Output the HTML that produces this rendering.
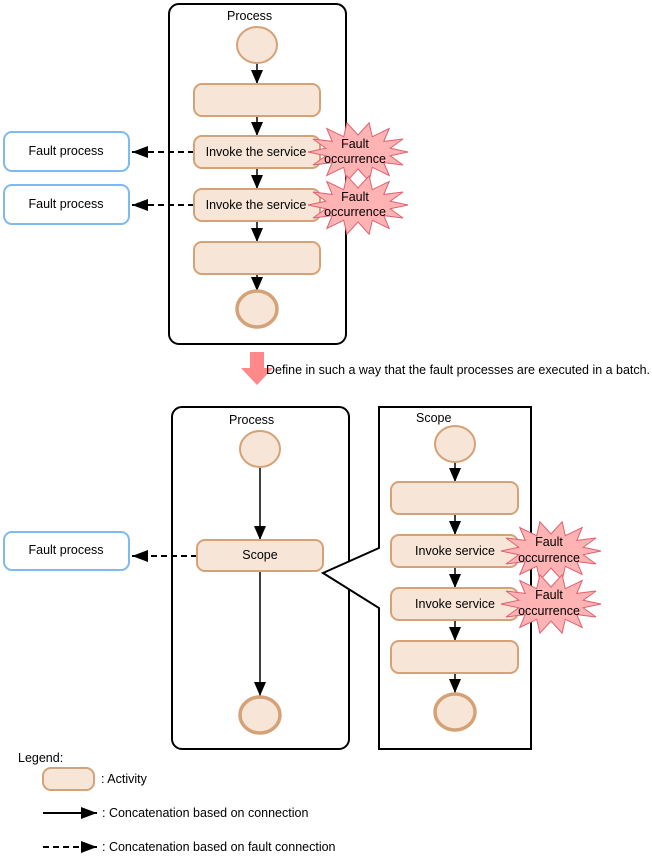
<!DOCTYPE html>
<html><head><meta charset="utf-8"><style>body{margin:0;background:#fff}svg{display:block}text{font-family:"Liberation Sans",sans-serif;font-size:12.5px;fill:#000}</style></head><body>
<svg width="652" height="857" viewBox="0 0 652 857" xmlns="http://www.w3.org/2000/svg">
<defs>
<polygon id="star" points="50,0 32.2,3.8 45,13 25.8,10.6 31.2,23.5 14.3,15.3 11.1,29.2 0,17 -11.1,29.2 -14.3,15.3 -31.2,23.5 -25.8,10.6 -45,13 -32.2,3.8 -50,0 -32.2,-3.8 -45,-13 -25.8,-10.6 -31.2,-23.5 -14.3,-15.3 -11.1,-29.2 0,-17 11.1,-29.2 14.3,-15.3 31.2,-23.5 25.8,-10.6 45,-13 32.2,-3.8" fill="#ffb3b3" stroke="#e06070" stroke-width="1"/>
<marker id="ah" markerWidth="14" markerHeight="12" refX="14" refY="6" orient="auto" markerUnits="userSpaceOnUse"><path d="M0,0 L14,6 L0,12 Z" fill="#000"/></marker>
<marker id="ah2" markerWidth="16" markerHeight="12" refX="16" refY="6" orient="auto" markerUnits="userSpaceOnUse"><path d="M0,0 L16,6 L0,12 Z" fill="#000"/></marker>
</defs>
<g fill="none" stroke="#000" stroke-width="2">
<rect x="169" y="4" width="177" height="340" rx="10"/>
<rect x="172" y="407" width="177" height="342" rx="10"/>
</g>
<path d="M379,407 L531,407 L531,749 L379,749 L379,608 L323,573 L379,548 Z" fill="#fff" stroke="#000" stroke-width="2"/>
<text x="227" y="20">Process</text>
<text x="229" y="424">Process</text>
<text x="416" y="422">Scope</text>
<g stroke="#000" stroke-width="1.5" marker-end="url(#ah)">
<line x1="257" y1="63" x2="257" y2="84"/><line x1="257" y1="116" x2="257" y2="136"/><line x1="257" y1="168" x2="257" y2="189"/><line x1="257" y1="221" x2="257" y2="242"/><line x1="257" y1="274" x2="257" y2="291"/>
<line x1="260" y1="467" x2="260" y2="540"/><line x1="260" y1="571" x2="260" y2="696"/>
<line x1="455" y1="462" x2="455" y2="482"/><line x1="455" y1="514" x2="455" y2="535"/><line x1="455" y1="567" x2="455" y2="588"/><line x1="455" y1="620" x2="455" y2="641"/><line x1="455" y1="673" x2="455" y2="693"/>
</g>
<line x1="43" y1="813" x2="97" y2="813" stroke="#000" stroke-width="2" marker-end="url(#ah2)"/>
<g stroke="#000" stroke-width="2" stroke-dasharray="6,4" marker-end="url(#ah2)">
<line x1="194" y1="152" x2="132" y2="152"/><line x1="194" y1="205" x2="132" y2="205"/><line x1="197" y1="556" x2="132" y2="556"/><line x1="43" y1="847" x2="97" y2="847"/>
</g>
<g fill="#f7e6d8" stroke="#d4a276" stroke-width="2">
<ellipse cx="257" cy="45" rx="20" ry="18"/>
<rect x="194" y="84" width="126" height="32" rx="8"/><rect x="194" y="136" width="126" height="32" rx="8"/><rect x="194" y="189" width="126" height="32" rx="8"/><rect x="194" y="242" width="126" height="32" rx="8"/>
<ellipse cx="257" cy="309" rx="20" ry="18" stroke-width="3.5"/>
<ellipse cx="260" cy="449" rx="20" ry="18"/>
<rect x="197" y="540" width="126" height="31" rx="8"/>
<ellipse cx="260" cy="715" rx="20" ry="18" stroke-width="3.5"/>
<ellipse cx="455" cy="444" rx="20" ry="18"/>
<rect x="391" y="482" width="127" height="32" rx="8"/><rect x="391" y="535" width="127" height="32" rx="8"/><rect x="391" y="588" width="127" height="32" rx="8"/><rect x="391" y="641" width="127" height="32" rx="8"/>
<ellipse cx="455" cy="712" rx="20" ry="18" stroke-width="3.5"/>
<rect x="43" y="768" width="51" height="22" rx="8"/>
</g>
<g fill="#fff" stroke="#7fb9f0" stroke-width="2">
<rect x="4" y="132" width="125" height="39" rx="8"/><rect x="4" y="185" width="125" height="39" rx="8"/><rect x="4" y="532" width="125" height="38" rx="8"/>
</g>
<use href="#star" x="358" y="152"/><use href="#star" x="358" y="205"/><use href="#star" x="551" y="551"/><use href="#star" x="551" y="604"/>
<path d="M250,352 L264,352 L264,368 L273,368 L257,385 L241,368 L250,368 Z" fill="#f88"/>
<text x="266" y="374" textLength="384" lengthAdjust="spacingAndGlyphs">Define in such a way that the fault processes are executed in a batch.</text>
<g text-anchor="middle">
<text x="66" y="155">Fault process</text><text x="66" y="208">Fault process</text><text x="66" y="554">Fault process</text>
<text x="256" y="156">Invoke the service</text><text x="256" y="209">Invoke the service</text>
<text x="260" y="559">Scope</text>
<text x="455" y="555">Invoke service</text><text x="455" y="608">Invoke service</text>
<text x="355" y="148">Fault</text><text x="355" y="163">occurrence</text>
<text x="355" y="201">Fault</text><text x="355" y="216">occurrence</text>
<text x="549" y="546">Fault</text><text x="549" y="562">occurrence</text>
<text x="549" y="599">Fault</text><text x="549" y="615">occurrence</text>
</g>
<text x="18" y="762">Legend:</text>
<text x="101" y="783">: Activity</text>
<text x="102" y="817">: Concatenation based on connection</text>
<text x="102" y="851">: Concatenation based on fault connection</text>
</svg>
</body></html>
